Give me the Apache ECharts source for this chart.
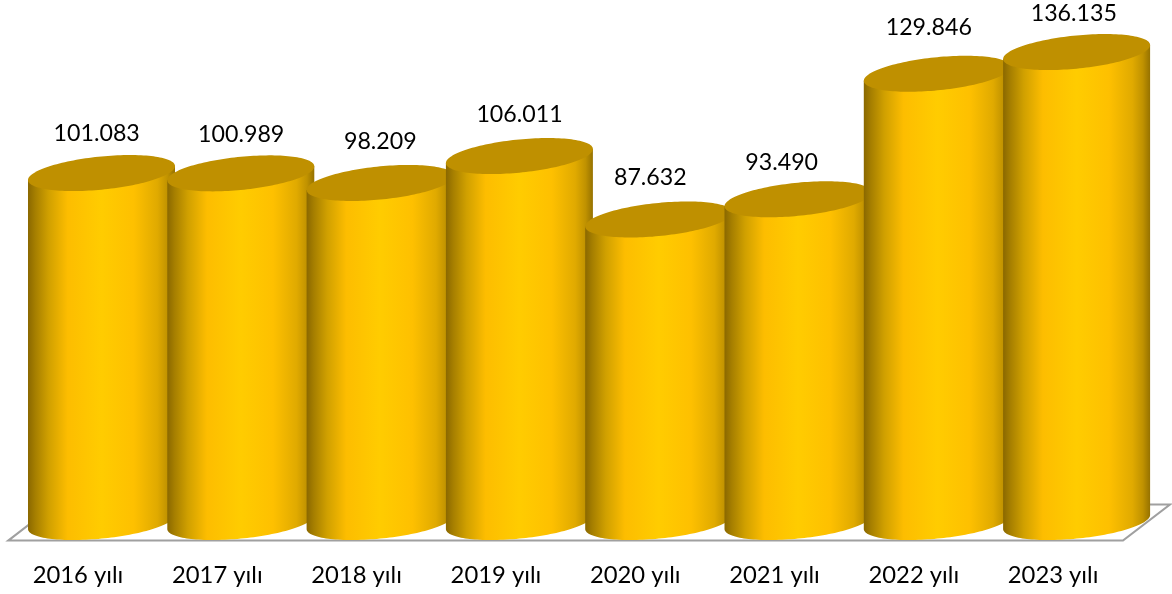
<!DOCTYPE html>
<html>
<head>
<meta charset="utf-8">
<style>html,body{margin:0;padding:0;background:#fff}#c{width:1172px;height:594px}</style>
<script src="https://cdn.jsdelivr.net/npm/echarts@6/dist/echarts.min.js"></script>
</head>
<body>
<div id="c"></div>
<script>
const categories = ['2016 yılı','2017 yılı','2018 yılı','2019 yılı','2020 yılı','2021 yılı','2022 yılı','2023 yılı'];
const values = [101083,100989,98209,106011,87632,93490,129846,136135];
// label placement tweaks relative to the cylinder centre (layout, not data)
const labelDx = [-4.8,0.4,0.2,0.1,-8.4,-16.3,-8.5,-2.8];
const labelDy = [-39.2,-38.9,-41.4,-41.5,-42.3,-36.8,-46,-38.2];

const chart = echarts.init(document.getElementById('c'), null, {renderer:'canvas'});
const FONT = 'Lato, "Open Sans", sans-serif';
const DEPTH_X = 23.5, A = 73.5, B = 16.6, K = 7;

function ell(cx, cy, t){
  return [cx + A*Math.cos(t), cy + B*Math.sin(t) - K*Math.cos(t)];
}
const bodyFill = new echarts.graphic.LinearGradient(0,0,1,0,[
  {offset:0,color:'#8a6800'},
  {offset:0.05,color:'#a67f00'},
  {offset:0.14,color:'#d0a000'},
  {offset:0.27,color:'#fdbd00'},
  {offset:0.5,color:'#ffcc00'},
  {offset:0.72,color:'#fec000'},
  {offset:0.88,color:'#e0aa00'},
  {offset:0.95,color:'#c09200'},
  {offset:1,color:'#967200'}
]);

function renderCylinder(params, api){
  const top = api.coord([api.value(0), api.value(1)]);
  const base = api.coord([api.value(0), 0]);
  const cx = top[0] + DEPTH_X;
  const body = [], lid = [];
  const N = 72;
  body.push(ell(cx, top[1], Math.PI));
  for(let i=0;i<=N;i++){
    const t = Math.PI - Math.PI*i/N;
    body.push(ell(cx, base[1], t));
  }
  body.push(ell(cx, top[1], 0));
  for(let i=0;i<=N;i++){
    const t = Math.PI - Math.PI*i/N;
    body.push(ell(cx, top[1], t));
  }
  for(let i=0;i<N*2;i++){
    lid.push(ell(cx, top[1], Math.PI*i/N));
  }
  return {type:'group',children:[
    {type:'polygon',shape:{points:body},style:{fill:bodyFill,stroke:null}},
    {type:'polygon',shape:{points:lid},style:{fill:'#bf9000',stroke:null}}
  ]};
}
function renderValueLabel(params, api){
  const i = params.dataIndex;
  const top = api.coord([api.value(0), api.value(1)]);
  const v = api.value(1);
  const txt = Math.floor(v/1000) + '.' + String(v%1000).padStart(3,'0');
  return {type:'text',style:{
    text:txt,x:top[0]+DEPTH_X+labelDx[i],y:top[1]+labelDy[i],
    align:'center',verticalAlign:'middle',
    font:'23.2px '+FONT,fill:'#000'
  }};
}
const seriesData = values.map((v,i)=>[i,v]);
chart.setOption({
  animation:false,
  backgroundColor:'#fff',
  grid:{left:8.35,width:1114.4,top:38.7,height:483.3},
  xAxis:{type:'category',data:categories,
    axisLine:{show:false},axisTick:{show:false},splitLine:{show:false},
    axisLabel:{margin:41.5,fontSize:23.8,fontFamily:FONT,color:'#000',interval:0}},
  yAxis:{type:'value',min:0,max:140000,show:false},
  graphic:[{type:'polygon',z:0,silent:true,
    shape:{points:[[8.5,540.5],[1123,540.5],[1170,504.5],[55,504.5]]},
    style:{fill:'#fff',stroke:'#a0a0a0',lineWidth:2.2}}],
  series:[
    {type:'custom',name:'cylinders',data:seriesData,renderItem:renderCylinder,z:2,clip:false,silent:true},
    {type:'custom',name:'labels',data:seriesData,renderItem:renderValueLabel,z:3,clip:false,silent:true}
  ]
});
</script>
</body>
</html>
